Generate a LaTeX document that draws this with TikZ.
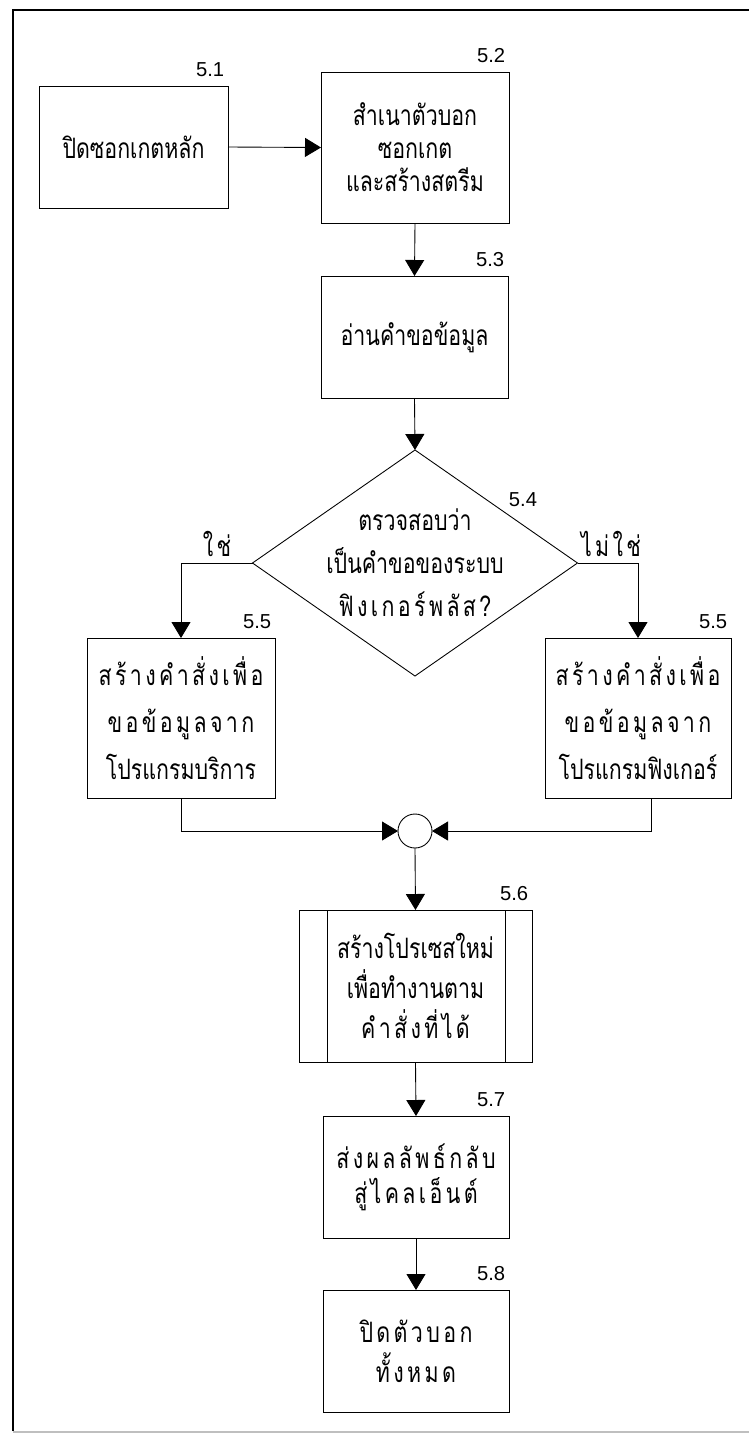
\documentclass[tikz,border=0pt]{standalone}
\usepackage{fontspec}
\setmainfont{Liberation Sans}
\newfontfamily\thaifont[Script=Thai, FakeStretch=0.76]{Loma}
\newcommand{\spaced}[1]{{\addfontfeature{LetterSpace=12}#1}}
\usetikzlibrary{shapes.geometric, arrows.meta, positioning}
\tikzset{
	block/.style={draw, line width=0.5pt, outer sep=0pt, align=center, font=\thaifont\fontsize{16}{19}\selectfont},
	tx/.style={font=\thaifont\fontsize{16}{#1}\selectfont},
	decision/.style={draw, diamond, line width=0.5pt, outer sep=0pt, inner sep=0pt},
	subproc/.style={block, path picture={
		\draw[line width=0.5pt] ([xshift=0.56cm]path picture bounding box.north west) -- ([xshift=0.56cm]path picture bounding box.south west);
		\draw[line width=0.5pt] ([xshift=-0.54cm]path picture bounding box.north east) -- ([xshift=-0.54cm]path picture bounding box.south east);}},
	junction/.style={draw, circle, line width=0.5pt, outer sep=0pt, inner sep=0pt, minimum size=0.68cm},
	num/.style={font=\fontsize{11.5}{13}\selectfont, anchor=south east, inner sep=0pt, yshift=5pt, xshift=-2pt},
	answer/.style={font=\thaifont\fontsize{16}{19}\selectfont},
	>={Triangle[length=0.32cm, width=0.38cm]}
}

\begin{document}
\begin{tikzpicture}
		\useasboundingbox (0,0) rectangle (14.98,-28.68);
		% frame
		\draw[line width=1.1pt] (0.26,-28.62) -- (0.26,-0.2) -- (15.1,-0.2);
		\draw[line width=0.6pt, black!25] (0.26,-28.64) -- (15.1,-28.64);
		
		\node[block, minimum width=3.78cm, minimum height=2.44cm] (s51) at (2.67,-2.94) {ปิดซอกเกตหลัก};
		\node[num] (n51) at (s51.north east) {5.1};
		
		\node[block, tx=18.8, minimum width=3.76cm, minimum height=3.02cm] (s52) at (8.3,-2.95) {สำเนาตัวบอก \\ ซอกเกต \\ และสร้างสตรีม};
		\node[num] (n52) at (s52.north east) {5.2};
		
		\node[block, minimum width=3.74cm, minimum height=2.44cm] (s53) at (8.29,-6.74) {อ่านคำขอข้อมูล};
		\node[num] (n53) at (s53.north east) {5.3};
		
		\node[decision, minimum width=6.5cm, minimum height=4.52cm] (d54) at (8.3,-11.26) {};
		\node[align=center, tx=24.5] (t54) at (d54) {ตรวจสอบว่า \\ เป็นคำขอของระบบ \\ \spaced{ฟิงเกอร์พลัส?}};
		\node[font=\fontsize{11.5}{13}\selectfont] (n54) at (10.46,-10.0) {5.4};
		\node[answer] (yes) at (4.34,-10.88) {\spaced{ใช่}};
		\node[answer] (no) at (12.22,-10.88) {\spaced{ไม่ใช่}};
		
		\node[block, tx=26.7, minimum width=3.76cm, minimum height=3.2cm] (s55l) at (3.62,-14.36) {\spaced{สร้างคำสั่งเพื่อ} \\ \spaced{ขอข้อมูลจาก} \\ โปรแกรมบริการ};
		\node[num] (n55l) at (s55l.north east) {5.5};
		
		\node[block, tx=26.7, minimum width=3.72cm, minimum height=3.2cm] (s55r) at (12.76,-14.36) {\spaced{สร้างคำสั่งเพื่อ} \\ \spaced{ขอข้อมูลจาก} \\ โปรแกรมฟิงเกอร์};
		\node[num] (n55r) at (s55r.north east) {5.5};
		
		\node[junction] (j) at (8.3,-16.62) {};
		
		\node[subproc, tx=22.8, minimum width=4.66cm, minimum height=3.04cm] (s56) at (8.31,-19.72) {สร้างโปรเซสใหม่ \\ เพื่อทำงานตาม \\ \spaced{คำสั่งที่ได้}};
		\node[num] (n56) at (s56.north east) {5.6};
		
		\node[block, tx=19.9, minimum width=3.72cm, minimum height=2.44cm] (s57) at (8.32,-23.54) {\spaced{ส่งผลลัพธ์กลับ} \\ \spaced{สู่ไคลเอ็นต์}};
		\node[num] (n57) at (s57.north east) {5.7};
		
		\node[block, tx=22.8, minimum width=3.72cm, minimum height=2.44cm] (s58) at (8.32,-27.02) {\spaced{ปิดตัวบอก} \\ \spaced{ทั้งหมด}};
		\node[num] (n58) at (s58.north east) {5.8};
		
		\draw[->, line width=0.5pt] (s51.east) -- (s52.west);
		\draw[->, line width=0.5pt] (s52.south) -- (s53.north);
		\draw[->, line width=0.5pt] (s53.south) -- (d54.north);
		\draw[->, line width=0.5pt] (d54.west) -| (s55l.north);
		\draw[->, line width=0.5pt] (d54.east) -| (s55r.north);
		\draw[->, line width=0.5pt] (s55l.south) |- (j.west);
		\draw[->, line width=0.5pt] ([xshift=0.26cm]s55r.south) |- (j.east);
		\draw[->, line width=0.5pt] (j.south) -- (s56.north);
		\draw[->, line width=0.5pt] (s56.south) -- (s57.north);
		\draw[->, line width=0.5pt] (s57.south) -- (s58.north);
	\end{tikzpicture}
\end{document}
